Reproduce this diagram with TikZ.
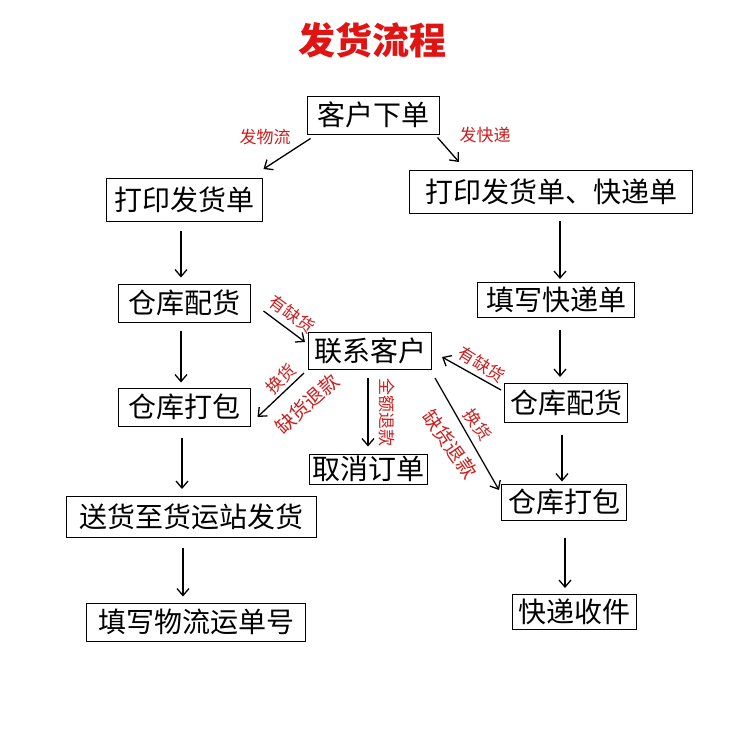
\documentclass[tikz,border=0pt]{standalone}
\usepackage{fontspec}
\newfontfamily\cjk{Noto Sans CJK SC}
\usetikzlibrary{arrows.meta,calc}
\definecolor{lblred}{RGB}{205,30,30}
\definecolor{titlered}{RGB}{225,20,20}
\begin{document}
\begin{tikzpicture}[x=1pt,y=-1pt,
  box/.style={draw=black, line width=1pt, font=\cjk\fontsize{28}{28}\selectfont, inner sep=0pt},
  arr/.style={-{Straight Barb[length=7pt,width=12pt]}, line width=1.3pt},
  lbl/.style={text=lblred, font=\cjk\fontsize{17}{17}\selectfont, inner sep=0pt},
  lblbig/.style={text=lblred, font=\cjk\fontsize{19.5}{19.5}\selectfont, inner sep=0pt}]
\fill[white] (0,0) rectangle (750,750);
\useasboundingbox (0,0) rectangle (750,750);
\node[text=titlered, font=\cjk\bfseries\fontsize{37}{37}\selectfont] (title) at (372,40) {发货流程};
\node[box, minimum width=132pt, minimum height=38pt] (t0) at (373,115) {客户下单};
\node[box, minimum width=156pt, minimum height=43pt] (L1) at (184,200) {打印发货单};
\node[box, minimum width=283pt, minimum height=43pt] (R1) at (551,192) {打印发货单、快递单};
\node[box, minimum width=132pt, minimum height=38pt] (L2) at (184,303) {仓库配货};
\node[box, minimum width=157pt, minimum height=35pt] (R2) at (556,300) {填写快递单};
\node[box, minimum width=123pt, minimum height=37pt] (C) at (370,351) {联系客户};
\node[box, minimum width=132pt, minimum height=38pt] (L3) at (184,407) {仓库打包};
\node[box, minimum width=123pt, minimum height=39pt] (R3) at (566,403) {仓库配货};
\node[box, minimum width=118pt, minimum height=30pt] (X) at (368,469) {取消订单};
\node[box, minimum width=250pt, minimum height=41pt] (L4) at (191,517) {送货至货运站发货};
\node[box, minimum width=125pt, minimum height=36pt] (R4) at (564,502) {仓库打包};
\node[box, minimum width=219pt, minimum height=38pt] (L5) at (196,622) {填写物流运单号};
\node[box, minimum width=124pt, minimum height=35pt] (R5) at (574,612) {快递收件};
% vertical arrows
\draw[arr] ($(L1.south)+(-3,9)$) -- ($(L2.north)+(-3,-6)$);
\draw[arr] ($(L2.south)+(-3,8)$) -- ($(L3.north)+(-3,-5)$);
\draw[arr] ($(L3.south)+(-2,11)$) -- ($(L4.north)+(-9,-7)$);
\draw[arr] ($(L4.south)+(-8,10)$) -- ($(L5.north)+(-13,-6)$);
\draw[arr] ($(R1.south)+(9,7)$) -- ($(R2.north)+(4,-3)$);
\draw[arr] ($(R2.south)+(4,12)$) -- ($(R3.north)+(-6,-6)$);
\draw[arr] ($(R3.south)+(-4,12)$) -- ($(R4.north)+(-2,-2)$);
\draw[arr] ($(R4.south)+(1,17)$) -- ($(R5.north)+(-9,-6)$);
% diagonal arrows
\draw[arr] ($(t0.south west)+(4,4)$) -- ($(L1.north east)+(1,-9)$);
\draw[arr] ($(t0.south east)+(-2,3)$) -- ($(R1.north west)+(50,-8)$);
\draw[arr] ($(L2.east)+(13,8)$) -- ($(C.west)+(-3,-9)$);
\draw[arr] ($(C.south west)+(-4,3)$) -- ($(L3.east)+(7,10)$);
\draw[arr] ($(C.south)+(-2,8)$) -- ($(X.north)+(0,-7)$);
\draw[arr] ($(R3.west)+(-3,-13)$) -- ($(C.east)+(10,6)$);
\draw[arr] ($(C.south east)+(3,8)$) -- ($(R4.west)+(-2,-12)$);
% labels
\node[lbl] (lw) at (265,137) {发物流};
\node[lbl] (lk) at (485,135) {发快递};
\node[lbl, rotate=-36] (q1) at (292,314) {有缺货};
\node[lbl, rotate=45] (h1) at (281,379) {换货};
\node[lblbig, rotate=42] (k1) at (307,404) {缺货退款};
\node[lbl, rotate=-90] (qe) at (387,412) {全额退款};
\node[lbl, rotate=-32] (q2) at (482,364) {有缺货};
\node[lbl, rotate=-55] (h2) at (478,425) {换货};
\node[lblbig, rotate=-55] (k2) at (450,444) {缺货退款};
\end{tikzpicture}
\end{document}
